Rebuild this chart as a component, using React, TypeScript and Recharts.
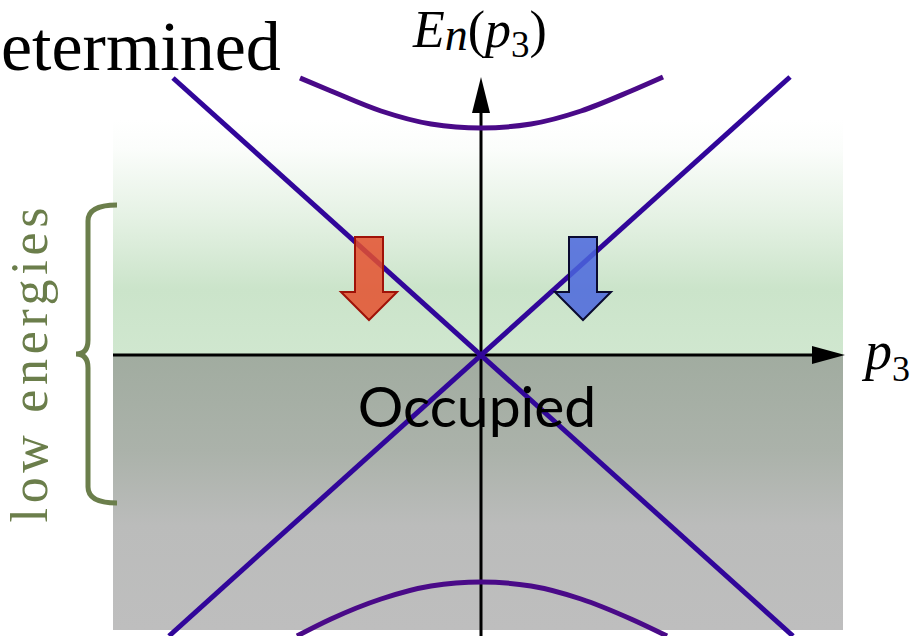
import React from 'react';
import { LineChart, Line, XAxis, YAxis, ReferenceArea, ReferenceLine, ReferenceDot } from 'recharts';

// ---- data (momentum p3 vs energy E, 1 unit ≈ 100 px) ----
const leftLineP = [-3.08, 3.12];
const leftLineE = [2.77, -2.81];
const rightLineP = [-3.12, 3.09];
const rightLineE = [-2.81, 2.78];

const upperBandP = [-1.81, -1.5, -1.0, -0.5, 0, 0.5, 1.0, 1.5, 1.82];
const upperBandE = [2.77, 2.64, 2.44, 2.31, 2.27, 2.31, 2.44, 2.64, 2.78];
const lowerBandP = [-1.84, -1.5, -1.0, -0.5, 0, 0.5, 1.0, 1.5, 1.86];
const lowerBandE = [-2.81, -2.64, -2.44, -2.31, -2.27, -2.31, -2.44, -2.64, -2.81];

const arrowP = [-1.12, 1.02];
const arrowE = [1.18, 1.18];

const regionP = [-3.68, 3.62];
const occupiedE = [-2.75, 0];
const emptyE = [0, 2.35];
const braceP = [-4.05, -3.64];
const braceE = [1.5, -1.48];

const pDomain = [-4.81, 4.43];
const eDomain = [-2.81, 3.55];

const zip = (ps: number[], es: number[]) => ps.map((p, i) => ({ p, E: es[i] }));

const lineColor = '#31069a';
const bandColor = '#4a0a88';
const green = '#6b7e4b';
const serif = '"Liberation Serif", "Times New Roman", serif';

const greenShape = (props: any) => (
  <g>
    <defs>
      <linearGradient id="gGreen" x1="0" y1="0" x2="0" y2="1">
        <stop offset="0" stopColor="#ffffff" />
        <stop offset="0.12" stopColor="#fbfdfb" />
        <stop offset="0.4" stopColor="#e6f2e5" />
        <stop offset="0.72" stopColor="#cbe4ca" />
        <stop offset="1" stopColor="#d0e7cf" />
      </linearGradient>
    </defs>
    <rect x={props.x} y={props.y} width={props.width} height={props.height} fill="url(#gGreen)" />
  </g>
);

const grayShape = (props: any) => (
  <g>
    <defs>
      <linearGradient id="gGray" x1="0" y1="0" x2="0" y2="1">
        <stop offset="0" stopColor="#a1aca0" />
        <stop offset="0.35" stopColor="#abb2aa" />
        <stop offset="0.62" stopColor="#bbbcbb" />
        <stop offset="1" stopColor="#bebebe" />
      </linearGradient>
    </defs>
    <rect x={props.x} y={props.y} width={props.width} height={props.height} fill="url(#gGray)" />
  </g>
);

const braceShape = (props: any) => {
  const { x, y, width: w, height: h } = props;
  const v = x + 12;
  const m = y + h / 2;
  const d = `M ${x + w} ${y} Q ${v} ${y} ${v} ${y + 16} L ${v} ${m - 14} Q ${v} ${m} ${x} ${m} Q ${v} ${m} ${v} ${m + 14} L ${v} ${y + h - 16} Q ${v} ${y + h} ${x + w} ${y + h}`;
  return <path d={d} fill="none" stroke={green} strokeWidth={5} />;
};

const makeArrow = (fill: string, stroke: string) => (props: any) => {
  const { cx, cy } = props;
  const d = `M ${cx - 14} ${cy} L ${cx + 14} ${cy} L ${cx + 14} ${cy + 55} L ${cx + 28} ${cy + 55} L ${cx} ${cy + 83} L ${cx - 28} ${cy + 55} L ${cx - 14} ${cy + 55} Z`;
  return <path d={d} fill={fill} fillOpacity={0.85} stroke={stroke} strokeWidth={2} strokeLinejoin="miter" />;
};

const upHead = (props: any) => {
  const { cx, cy } = props;
  return <path d={`M ${cx} ${cy} L ${cx + 9} ${cy + 36} L ${cx - 9} ${cy + 36} Z`} fill="#000" />;
};
const rightHead = (props: any) => {
  const { cx, cy } = props;
  return <path d={`M ${cx} ${cy} L ${cx - 33} ${cy - 9} L ${cx - 33} ${cy + 9} Z`} fill="#000" />;
};

const titleShape = (props: any) => (
  <text x={props.cx} y={props.cy} textAnchor="start" fontFamily={serif} fontSize={70} fill="#000">etermined</text>
);
const yLabelShape = (props: any) => (
  <text x={props.cx} y={props.cy} fontFamily={serif} fontSize={52} fill="#000">
    <tspan fontStyle="italic">E</tspan>
    <tspan fontStyle="italic" fontSize={46} dy={3}>n</tspan>
    <tspan dy={-3}>(</tspan>
    <tspan fontStyle="italic">p</tspan>
    <tspan fontSize={37} dy={10}>3</tspan>
    <tspan dy={-10}>)</tspan>
  </text>
);
const xLabelShape = (props: any) => (
  <text x={props.cx} y={props.cy} fontFamily={serif} fontSize={54} fill="#000">
    <tspan fontStyle="italic">p</tspan>
    <tspan fontSize={36} dy={12}>3</tspan>
  </text>
);
const lowShape = (props: any) => (
  <text
    x={props.cx}
    y={props.cy}
    transform={`rotate(-90 ${props.cx} ${props.cy})`}
    textAnchor="middle"
    fontFamily={serif}
    fontSize={52}
    fill={green}
    textLength={315}
    lengthAdjust="spacing"
  >
    low energies
  </text>
);
const occShape = (props: any) => (
  <text x={props.cx} y={props.cy} textAnchor="middle" fontFamily="Lato, 'Open Sans', sans-serif" fontSize={57} fill="#000">
    Occupied
  </text>
);

const lineProps = { strokeWidth: 5, dot: false, activeDot: false, isAnimationActive: false } as const;

export default function App() {
  return (
    <div style={{ position: 'absolute', left: 0, top: 0, width: 924, height: 636, background: '#fff' }}>
      <LineChart width={924} height={636} margin={{ top: 0, right: 0, bottom: 0, left: 0 }}>
        <XAxis type="number" dataKey="p" domain={pDomain} hide allowDataOverflow />
        <YAxis type="number" dataKey="E" domain={eDomain} hide allowDataOverflow />

        <ReferenceArea x1={regionP[0]} x2={regionP[1]} y1={emptyE[0]} y2={emptyE[1]} shape={greenShape} ifOverflow="visible" />
        <ReferenceArea x1={regionP[0]} x2={regionP[1]} y1={occupiedE[0]} y2={occupiedE[1]} shape={grayShape} ifOverflow="visible" />
        <ReferenceArea x1={braceP[0]} x2={braceP[1]} y1={braceE[0]} y2={braceE[1]} shape={braceShape} ifOverflow="visible" />

        <ReferenceLine segment={[{ x: 0, y: -2.81 }, { x: 0, y: 2.5 }]} stroke="#000" strokeWidth={3} ifOverflow="visible" />
        <ReferenceLine segment={[{ x: regionP[0], y: 0 }, { x: 3.35, y: 0 }]} stroke="#000" strokeWidth={3} ifOverflow="visible" />
        <ReferenceDot x={0} y={2.78} r={1} shape={upHead} ifOverflow="visible" />
        <ReferenceDot x={3.64} y={0} r={1} shape={rightHead} ifOverflow="visible" />

        <ReferenceDot x={-0.04} y={-0.72} r={1} shape={occShape} ifOverflow="visible" />

        <Line data={zip(leftLineP, leftLineE)} dataKey="E" type="linear" stroke={lineColor} {...lineProps} />
        <Line data={zip(rightLineP, rightLineE)} dataKey="E" type="linear" stroke={lineColor} {...lineProps} />
        <Line data={zip(upperBandP, upperBandE)} dataKey="E" type="monotone" stroke={bandColor} {...lineProps} />
        <Line data={zip(lowerBandP, lowerBandE)} dataKey="E" type="monotone" stroke={bandColor} {...lineProps} />

        <ReferenceDot x={arrowP[0]} y={arrowE[0]} r={1} shape={makeArrow('#e4502e', '#a01208')} ifOverflow="visible" />
        <ReferenceDot x={arrowP[1]} y={arrowE[1]} r={1} shape={makeArrow('#4a66dd', '#0a0a30')} ifOverflow="visible" />

        <ReferenceDot x={-4.80} y={2.85} r={1} shape={titleShape} ifOverflow="visible" />
        <ReferenceDot x={-0.68} y={3.08} r={1} shape={yLabelShape} ifOverflow="visible" />
        <ReferenceDot x={3.84} y={-0.14} r={1} shape={xLabelShape} ifOverflow="visible" />
        <ReferenceDot x={-4.34} y={-0.1} r={1} shape={lowShape} ifOverflow="visible" />
      </LineChart>
    </div>
  );
}
